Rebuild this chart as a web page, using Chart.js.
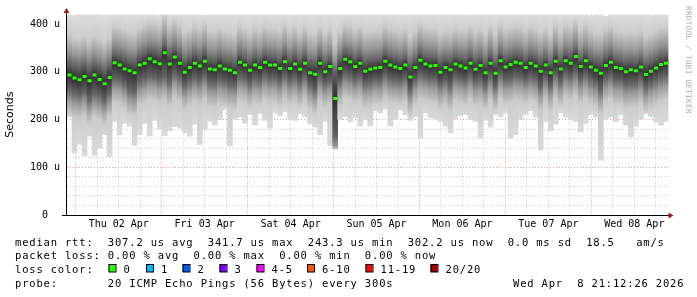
<!DOCTYPE html>
<html>
<head>
<meta charset="utf-8">
<script src="https://cdn.jsdelivr.net/npm/chart.js@4.4.1/dist/chart.umd.min.js"></script>
<style>
  html, body { margin: 0; padding: 0; background: #fff; }
  canvas { display: block; }
</style>
</head>
<body>
<canvas id="smokeChart" width="697" height="297"></canvas>
<script>
// one column = 84 min of pings, hours counted from Thu 02 Apr 00:00
const firstSample = -1.75;
const sampleStep = 1.4;

// median rtt per column (us)
const med = [
  293, 287, 283, 290, 281, 293, 284, 275, 288, 319,
  314, 306, 302, 298, 314, 318, 327, 321, 317, 340,
  316, 331, 318, 299, 309, 318, 312, 322, 306, 304,
  312, 306, 303, 298, 320, 314, 303, 314, 309, 320,
  314, 314, 307, 321, 307, 316, 305, 318, 298, 295,
  318, 300, 311, 244, 307, 326, 321, 311, 318, 301,
  305, 308, 309, 322, 314, 310, 307, 314, 289, 309,
  324, 316, 312, 313, 299, 309, 304, 316, 312, 308,
  318, 305, 313, 298, 318, 297, 323, 310, 315, 320,
  318, 309, 318, 312, 301, 314, 298, 322, 306, 323,
  318, 332, 311, 323, 310, 303, 297, 313, 320, 309,
  307, 300, 304, 302, 310, 294, 301, 308, 315, 318
];
// upper edge of the dark smoke core
const q3 = [
  318, 312, 309, 314, 306, 315, 310, 302, 312, 336,
  333, 328, 322, 320, 332, 338, 344, 342, 338, 356,
  338, 347, 338, 322, 328, 336, 330, 340, 326, 324,
  330, 324, 322, 318, 336, 330, 322, 332, 326, 336,
  332, 330, 326, 338, 326, 334, 324, 334, 320, 318,
  334, 320, 328, 300, 326, 340, 336, 328, 334, 322,
  324, 326, 326, 338, 332, 328, 324, 330, 314, 326,
  340, 332, 330, 330, 320, 326, 324, 332, 328, 326,
  334, 324, 330, 318, 334, 318, 338, 328, 332, 336,
  334, 326, 334, 330, 322, 330, 318, 338, 324, 338,
  334, 346, 328, 338, 328, 322, 320, 330, 336, 326,
  324, 320, 322, 320, 326, 316, 320, 326, 332, 334
];
// lower edge of the dark smoke core
const q1 = [
  262, 255, 252, 258, 242, 255, 250, 240, 256, 286,
  284, 276, 262, 258, 280, 286, 292, 290, 284, 290,
  278, 296, 288, 272, 280, 288, 282, 292, 278, 276,
  284, 280, 274, 272, 290, 286, 276, 286, 282, 292,
  286, 288, 280, 292, 282, 288, 278, 290, 272, 262,
  288, 276, 282, 165, 280, 296, 292, 284, 290, 276,
  278, 284, 282, 294, 286, 284, 282, 288, 262, 282,
  294, 290, 286, 286, 274, 282, 270, 290, 286, 282,
  292, 280, 284, 272, 290, 270, 294, 284, 286, 292,
  290, 284, 290, 286, 268, 288, 270, 294, 280, 296,
  290, 300, 284, 294, 284, 278, 262, 286, 292, 282,
  282, 274, 276, 276, 284, 268, 276, 282, 288, 292
];
// fastest ping per column
const lo = [
  205, 130, 148, 124, 165, 125, 140, 168, 122, 196,
  168, 192, 186, 146, 168, 192, 165, 198, 180, 166,
  176, 185, 182, 172, 165, 190, 148, 178, 196, 188,
  200, 222, 145, 200, 205, 192, 210, 188, 212, 198,
  182, 214, 208, 216, 200, 198, 212, 206, 190, 184,
  168, 196, 145, 138, 200, 206, 195, 204, 186, 200,
  186, 218, 214, 222, 186, 200, 220, 210, 198, 206,
  160, 214, 204, 200, 196, 186, 172, 200, 208, 210,
  200, 196, 162, 198, 184, 210, 206, 214, 162, 168,
  200, 210, 218, 205, 136, 196, 176, 190, 214, 205,
  200, 196, 174, 192, 210, 205, 115, 200, 205, 196,
  210, 188, 164, 186, 200, 212, 206, 195, 188, 196
];
// slowest ping per column (420 = clipped at the top)
const hi = [
  420, 417, 420, 420, 420, 420, 420, 418, 420, 420,
  420, 420, 420, 420, 420, 420, 420, 420, 418, 420,
  420, 420, 420, 420, 420, 420, 420, 418, 420, 420,
  420, 420, 420, 420, 420, 420, 420, 420, 420, 420,
  420, 420, 420, 420, 418, 420, 420, 420, 420, 420,
  420, 420, 420, 420, 420, 420, 420, 420, 420, 420,
  420, 420, 420, 420, 420, 420, 418, 420, 420, 420,
  420, 420, 420, 420, 420, 420, 420, 420, 420, 420,
  418, 420, 420, 420, 420, 420, 420, 420, 420, 420,
  420, 420, 420, 420, 420, 420, 420, 420, 420, 420,
  420, 420, 420, 420, 417, 420, 420, 416, 420, 420,
  420, 420, 420, 420, 420, 420, 418, 420, 420, 420
];

const dayLabels = ['Thu 02 Apr', 'Fri 03 Apr', 'Sat 04 Apr', 'Sun 05 Apr', 'Mon 06 Apr', 'Tue 07 Apr', 'Wed 08 Apr'];

const statLines = [
  'median rtt:  307.2 us avg  341.7 us max  243.3 us min  302.2 us now  0.0 ms sd  18.5   am/s',
  'packet loss: 0.00 % avg  0.00 % max  0.00 % min  0.00 % now',
  'loss color:',
  'probe:       20 ICMP Echo Pings (56 Bytes) every 300s'
];
const stampText = 'Wed Apr  8 21:12:26 2026';
const lossLabels = ['0', '1', '2', '3', '4-5', '6-10', '11-19', '20/20'];
const lossColors = ['#26ff00', '#00b8ff', '#0059ff', '#7e00ff', '#ff00ff', '#ff5500', '#ff0000', '#a00000'];
const lossBoxX = [108.5, 146, 182.5, 219.5, 256.5, 307, 365.5, 430.5];

const times = med.map((_, i) => firstSample + i * sampleStep);

const CHAR_W = 7.14;
const MONO = 'DejaVu Sans Mono';
const RED_GRID = 'rgba(215, 60, 60, 0.5)';
const GRAY_GRID = 'rgba(120, 120, 120, 0.4)';

function smokeFill(c) {
    if (c.type !== 'data') return '#dcdcdc';
    const i = c.dataIndex;
    const ys = c.chart.scales.y;
    if (!ys) return '#dcdcdc';
    const top = ys.getPixelForValue(hi[i]);
    const bot = ys.getPixelForValue(lo[i]);
    if (!isFinite(top) || !isFinite(bot) || bot <= top) return '#dcdcdc';
    const g = c.chart.ctx.createLinearGradient(0, top, 0, bot);
    const stops = [
        [hi[i], '#dddddd'],
        [q3[i] + 60, '#cdcdcd'],
        [q3[i] + 25, '#989898'],
        [q3[i], '#636363'],
        [med[i], '#2e2e2e'],
        [q1[i], '#636363'],
        [q1[i] - 22, '#9c9c9c'],
        [q1[i] - 50, '#cbcbcb'],
        [lo[i], '#dadada']
    ];
    let last = 0;
    stops.forEach(([v, col]) => {
        let f = (ys.getPixelForValue(v) - top) / (bot - top);
        f = Math.min(1, Math.max(last, f));
        g.addColorStop(f, col);
        last = f;
    });
    return g;
}

function monoText(c, s, x, y) {
    for (let k = 0; k < s.length; k++) c.fillText(s[k], x + k * CHAR_W, y);
}

const decorations = {
    id: 'decorations',
    beforeDraw(chart) {
        const c = chart.ctx;
        c.save();
        c.fillStyle = '#fff';
        c.fillRect(0, 0, chart.width, chart.height);
        c.restore();
    },
    afterDraw(chart) {
        const c = chart.ctx;
        const a = chart.chartArea;
        c.save();

        // axes + arrows
        c.strokeStyle = '#000';
        c.lineWidth = 1;
        c.beginPath();
        c.moveTo(a.left - 0.5, a.top - 2);
        c.lineTo(a.left - 0.5, a.bottom + 1);
        c.moveTo(a.left - 5, a.bottom + 0.5);
        c.lineTo(a.right + 1, a.bottom + 0.5);
        c.stroke();
        c.fillStyle = '#9b1c1c';
        c.beginPath();
        c.moveTo(a.left - 3.5, a.top - 1.5);
        c.lineTo(a.left + 2.5, a.top - 1.5);
        c.lineTo(a.left - 0.5, a.top - 6.5);
        c.fill();
        c.beginPath();
        c.moveTo(a.right, a.bottom - 2.5);
        c.lineTo(a.right, a.bottom + 3.5);
        c.lineTo(a.right + 5, a.bottom + 0.5);
        c.fill();

        // watermark
        c.save();
        c.translate(688, 6);
        c.rotate(Math.PI / 2);
        c.fillStyle = '#ababab';
        c.font = '7.5px ' + MONO;
        c.textBaseline = 'middle';
        const wm = 'RRDTOOL / TOBI OETIKER';
        for (let k = 0; k < wm.length; k++) c.fillText(wm[k], k * 4.9, 0);
        c.restore();

        // legend block
        c.fillStyle = '#000';
        c.font = '10.5px ' + MONO;
        c.textBaseline = 'alphabetic';
        const base = [245.5, 259.3, 273.1, 286.9];
        statLines.forEach((s, k) => monoText(c, s, 15, base[k]));
        monoText(c, stampText, 513, base[3]);

        lossLabels.forEach((lab, k) => {
            const x = lossBoxX[k];
            c.fillStyle = lossColors[k];
            c.fillRect(x, 264.5, 7, 7.5);
            c.strokeStyle = '#000';
            c.strokeRect(x + 0.5, 264.5, 7, 7.5);
            c.fillStyle = '#000';
            monoText(c, lab, x + 15, base[2]);
        });
        c.restore();
    }
};

const gridHours = [];
for (let h = 0; h <= 162; h += 6) gridHours.push(h);
const gridValues = [];
for (let v = 0; v <= 400; v += 20) gridValues.push(v);

new Chart(document.getElementById('smokeChart'), {
    type: 'bar',
    data: {
        datasets: [
            {
                label: 'smoke',
                order: 2,
                data: times.map((t, i) => ({ x: t, y: [lo[i], hi[i]] })),
                backgroundColor: smokeFill,
                borderWidth: 0,
                barPercentage: 1,
                categoryPercentage: 1
            },
            {
                type: 'line',
                label: 'median rtt',
                order: 1,
                data: times.map((t, i) => ({ x: t, y: med[i] })),
                showLine: false,
                pointStyle: 'line',
                pointRadius: 2,
                pointBorderWidth: 3,
                pointBorderColor: '#26ff00',
                pointBackgroundColor: '#26ff00'
            }
        ]
    },
    options: {
        responsive: false,
        animation: false,
        devicePixelRatio: 1,
        layout: { padding: { left: 0, right: 28.5, top: 14.45, bottom: 0 } },
        plugins: { legend: { display: false }, tooltip: { enabled: false } },
        scales: {
            x: {
                type: 'linear',
                min: -2.45,
                max: 165.55,
                offset: false,
                z: 1,
                afterBuildTicks: axis => { axis.ticks = gridHours.map(v => ({ value: v })); },
                afterFit: axis => { axis.height = 82; },
                grid: {
                    offset: false,
                    drawTicks: false,
                    lineWidth: 1,
                    color: c => (c.tick && c.tick.value % 24 === 0 ? RED_GRID : GRAY_GRID)
                },
                border: { display: false, dash: [1, 2] },
                ticks: {
                    autoSkip: false,
                    maxRotation: 0,
                    padding: 3,
                    color: '#000',
                    font: { family: MONO, size: 10 },
                    callback: v => (v % 24 === 12 ? dayLabels[(v - 12) / 24] : '')
                }
            },
            y: {
                type: 'linear',
                min: 0,
                max: 420,
                z: 1,
                afterBuildTicks: axis => { axis.ticks = gridValues.map(v => ({ value: v })); },
                afterFit: axis => { axis.width = 67; },
                grid: {
                    drawTicks: false,
                    lineWidth: 1,
                    color: c => {
                        const v = c.tick ? c.tick.value : 0;
                        if (v === 0) return 'rgba(0,0,0,0)';
                        return v % 100 === 0 ? RED_GRID : GRAY_GRID;
                    }
                },
                border: { display: false, dash: [1, 2] },
                ticks: {
                    autoSkip: false,
                    padding: 7,
                    color: '#000',
                    font: { family: MONO, size: 10 },
                    callback: v => (v % 100 ? '' : (v ? v + ' u' : '0  '))
                },
                title: {
                    display: true,
                    text: 'Seconds',
                    color: '#000',
                    font: { family: 'DejaVu Sans', size: 11 },
                    padding: { top: 4, bottom: 0 }
                }
            }
        }
    },
    plugins: [decorations]
});
</script>
</body>
</html>
